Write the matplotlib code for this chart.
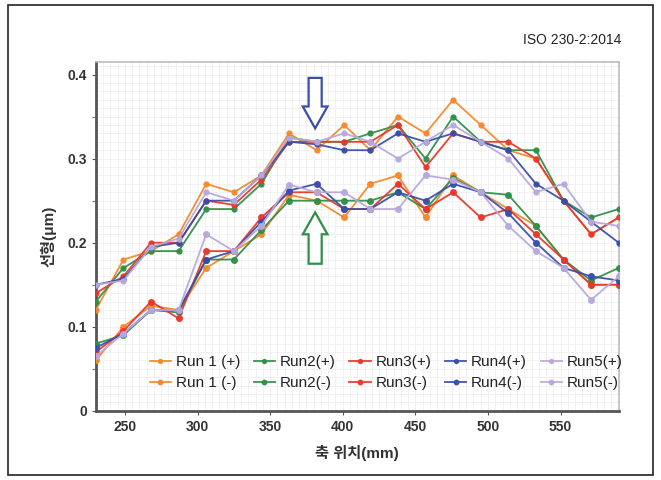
import matplotlib
matplotlib.use("Agg")
import matplotlib.pyplot as plt
from matplotlib.patches import FancyArrow, Rectangle
from matplotlib.ticker import MultipleLocator, FuncFormatter

plt.rcParams['font.family'] = ['Liberation Sans', 'Noto Sans CJK KR', 'DejaVu Sans']

positions = [230, 249, 268, 287, 306, 325, 344, 363, 382, 401,
             419, 438, 457, 476, 495, 514, 533, 552, 571, 590]

run1_pos = [0.12, 0.18, 0.19, 0.21, 0.27, 0.26, 0.28, 0.33, 0.31, 0.34, 0.31, 0.35, 0.33, 0.37, 0.34, 0.31, 0.30, 0.25, 0.21, 0.23]
run2_pos = [0.13, 0.17, 0.19, 0.19, 0.24, 0.24, 0.27, 0.325, 0.32, 0.32, 0.33, 0.34, 0.30, 0.35, 0.32, 0.31, 0.31, 0.25, 0.23, 0.24]
run3_pos = [0.14, 0.16, 0.20, 0.20, 0.25, 0.245, 0.275, 0.32, 0.32, 0.32, 0.32, 0.34, 0.29, 0.33, 0.32, 0.32, 0.30, 0.25, 0.21, 0.23]
run4_pos = [0.15, 0.157, 0.195, 0.20, 0.25, 0.25, 0.28, 0.32, 0.317, 0.31, 0.31, 0.33, 0.32, 0.33, 0.32, 0.31, 0.27, 0.25, 0.225, 0.20]
run5_pos = [0.15, 0.155, 0.195, 0.205, 0.26, 0.25, 0.28, 0.325, 0.32, 0.33, 0.32, 0.30, 0.32, 0.34, 0.32, 0.30, 0.26, 0.27, 0.225, 0.22]

run1_neg = [0.06, 0.10, 0.125, 0.12, 0.17, 0.19, 0.21, 0.257, 0.25, 0.23, 0.27, 0.28, 0.23, 0.28, 0.26, 0.24, 0.22, 0.18, 0.15, 0.15]
run2_neg = [0.08, 0.09, 0.12, 0.117, 0.18, 0.18, 0.215, 0.25, 0.25, 0.25, 0.25, 0.26, 0.24, 0.277, 0.26, 0.257, 0.22, 0.18, 0.155, 0.17]
run3_neg = [0.07, 0.095, 0.13, 0.11, 0.19, 0.19, 0.23, 0.26, 0.26, 0.24, 0.24, 0.27, 0.24, 0.26, 0.23, 0.24, 0.21, 0.18, 0.15, 0.15]
run4_neg = [0.075, 0.092, 0.12, 0.12, 0.18, 0.19, 0.225, 0.262, 0.27, 0.24, 0.24, 0.26, 0.25, 0.27, 0.26, 0.235, 0.20, 0.17, 0.16, 0.155]
run5_neg = [0.065, 0.092, 0.12, 0.12, 0.21, 0.19, 0.22, 0.269, 0.26, 0.26, 0.24, 0.24, 0.28, 0.275, 0.26, 0.22, 0.19, 0.17, 0.132, 0.16]

labels_pos = ['Run 1 (+)', 'Run2(+)', 'Run3(+)', 'Run4(+)', 'Run5(+)']
labels_neg = ['Run 1 (-)', 'Run2(-)', 'Run3(-)', 'Run4(-)', 'Run5(-)']
colors = ['#F5892C', '#2F8F47', '#E8372C', '#3A4DAA', '#B9A8DC']

fig = plt.figure(figsize=(6.61, 4.80), dpi=100)
ax = fig.add_axes([0.145, 0.144, 0.791, 0.727])

pos_series = [run1_pos, run2_pos, run3_pos, run4_pos, run5_pos]
neg_series = [run1_neg, run2_neg, run3_neg, run4_neg, run5_neg]

handles = []
for i in range(5):
    hp, = ax.plot(positions, pos_series[i], color=colors[i], lw=1.3,
                  marker='o', ms=3.5, label=labels_pos[i], alpha=0.95, zorder=3)
    hn, = ax.plot(positions, neg_series[i], color=colors[i], lw=1.3,
                  marker='o', ms=4, label=labels_neg[i], alpha=0.95, zorder=3)
    handles += [hp, hn]

ax.set_xlim(230, 590)
ax.set_ylim(0, 0.415)
ax.xaxis.set_major_locator(MultipleLocator(50))
ax.yaxis.set_major_locator(MultipleLocator(0.1))
ax.yaxis.set_minor_locator(MultipleLocator(0.05))
ax.yaxis.set_major_formatter(FuncFormatter(lambda v, p: '0' if abs(v) < 1e-9 else f'{v:.1f}'))

# fine background grid
for xv in range(230, 591, 5):
    ax.axvline(xv, color='#F0F0F0', lw=0.6, zorder=0)
for k in range(0, 42):
    ax.axhline(k * 0.01, color='#F0F0F0', lw=0.6, zorder=0)

for s in ['left', 'bottom']:
    ax.spines[s].set_color('#555555')
    ax.spines[s].set_linewidth(2)
for s in ['top', 'right']:
    ax.spines[s].set_color('#BBBBBB')
    ax.spines[s].set_linewidth(1.2)

ax.tick_params(axis='both', which='both', colors='#555555', labelcolor='#333333',
               labelsize=10, direction='out', length=3)
for lbl in ax.get_xticklabels() + ax.get_yticklabels():
    lbl.set_fontweight('bold')

ax.set_xlabel('축 위치(mm)', fontsize=11, fontweight='bold', color='#333333', labelpad=8)
ax.set_ylabel('선형(μm)', fontsize=11, fontweight='bold', color='#333333', labelpad=8)

leg = ax.legend(handles=handles, ncol=5, loc='lower center', bbox_to_anchor=(0.555, 0.02),
                frameon=False, fontsize=11, handlelength=1.4, handletextpad=0.3,
                columnspacing=0.9, labelspacing=0.45, markerscale=0.8)
for t in leg.get_texts():
    t.set_color('#222222')

# arrows
ax.add_patch(FancyArrow(381, 0.396, 0, -0.060, width=9, head_width=17,
                        head_length=0.026, length_includes_head=True,
                        facecolor='white', edgecolor='#3A4DAA', lw=1.6, zorder=5))
ax.add_patch(FancyArrow(381, 0.175, 0, 0.061, width=9, head_width=17,
                        head_length=0.026, length_includes_head=True,
                        facecolor='white', edgecolor='#2F8F47', lw=1.6, zorder=5))

fig.text(0.94, 0.917, 'ISO 230-2:2014', ha='right', va='center', fontsize=10,
         color='#222222')

fig.patches.append(Rectangle((0.012, 0.01), 0.976, 0.98, transform=fig.transFigure,
                             fill=False, edgecolor='#222222', lw=1.2))

fig.savefig('out.png', dpi=100)
